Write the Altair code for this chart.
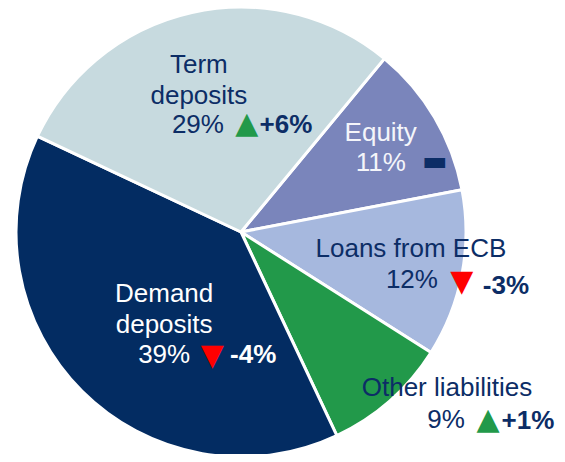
import altair as alt
import pandas as pd

# ---- data ----
categories = ["Equity", "Loans from ECB", "Other liabilities", "Demand deposits", "Term deposits"]
name_lines = ["Equity", "Loans from ECB", "Other liabilities", "Demand\ndeposits", "Term\ndeposits"]
shares = [11, 12, 9, 39, 29]
changes = ["", "-3%", "+1%", "-4%", "+6%"]
trend = ["flat", "down", "up", "down", "up"]

df = pd.DataFrame({
    "cat": categories,
    "name": name_lines,
    "share": shares,
    "pct": [f"{v}%" for v in shares],
    "chg": changes,
    "trend": trend,
    "order": list(range(len(categories))),
})

# ---- styles / layout ----
slice_colors = ["#7a85bb", "#a6b8de", "#22994a", "#032c62", "#c7dadf"]
NAVY = "#0c2d66"
text_color = {"Equity": "#f4f5fa", "Loans from ECB": NAVY, "Other liabilities": NAVY,
              "Demand deposits": "#ffffff", "Term deposits": NAVY}
chg_color = {"Equity": NAVY, "Loans from ECB": NAVY, "Other liabilities": NAVY,
             "Demand deposits": "#ffffff", "Term deposits": NAVY}
glyph = {"up": "▲", "down": "▼", "flat": "▬"}
glyph_color = {"up": "#22994a", "down": "#ff0000", "flat": NAVY}

# label anchor radius and offsets (name, pct, arrow, change)
layout = {
    "Term deposits":     dict(r=115, name=(-17, -55), pct=(-18, 5), arrow=(31, 4), chg=(70, 5)),
    "Equity":            dict(r=160, name=(2, -18), pct=(2, 12), arrow=(56, 11), chg=(0, 0)),
    "Loans from ECB":    dict(r=175, name=(-2, -16), pct=(-1, 15), arrow=(49, 17), chg=(93, 21)),
    "Other liabilities": dict(r=260, name=(34, -39), pct=(33, -7), arrow=(75, -7), chg=(115, -6)),
    "Demand deposits":   dict(r=120, name=(8, -23), pct=(8, 38), arrow=(56, 39), chg=(97, 38)),
}

start = 0.691  # radians, clockwise from 12 o'clock
theta_scale = alt.Scale(domain=[0, 100], range=[start, start + 2 * 3.141592653589793])
FONT = "Liberation Sans"
FS = 26
OUTER = 225
CX, CY = 233, 224  # pie centre inside the plot area

base = alt.Chart(df)
cx = alt.value(CX)
cy = alt.value(CY)

pie = base.mark_arc(outerRadius=OUTER, stroke="white", strokeWidth=3).encode(
    theta=alt.Theta("share:Q", stack=True, scale=theta_scale),
    order=alt.Order("order:Q"),
    color=alt.Color("cat:N", scale=alt.Scale(domain=categories, range=slice_colors), legend=None),
    x=cx, y=cy,
)

lab = base.transform_window(
    cum="sum(share)", sort=[alt.SortField("order")], frame=[None, 0]
).transform_calculate(mid="datum.cum - datum.share / 2")

layers = [pie]
for cat, tr in zip(categories, trend):
    L = layout[cat]
    src = lab.transform_filter(alt.datum.cat == cat)
    th = alt.Theta("mid:Q", scale=theta_scale)
    layers.append(src.mark_text(radius=L["r"], dx=L["name"][0], dy=L["name"][1], font=FONT,
                                fontSize=FS, lineBreak="\n", lineHeight=31, align="center",
                                baseline="middle", color=text_color[cat]).encode(
        theta=th, text="name:N", x=cx, y=cy))
    layers.append(src.mark_text(radius=L["r"], dx=L["pct"][0], dy=L["pct"][1], font=FONT,
                                fontSize=FS, align="center", baseline="middle",
                                color=text_color[cat]).encode(theta=th, text="pct:N", x=cx, y=cy))
    layers.append(src.mark_text(radius=L["r"], dx=L["arrow"][0], dy=L["arrow"][1], font="DejaVu Sans",
                                fontSize=30 if tr != "flat" else 27, align="center", baseline="middle",
                                color=glyph_color[tr]).encode(theta=th, text=alt.value(glyph[tr]),
                                                              x=cx, y=cy))
    if tr != "flat":
        layers.append(src.mark_text(radius=L["r"], dx=L["chg"][0], dy=L["chg"][1], font=FONT,
                                    fontSize=FS, fontWeight="bold", align="center", baseline="middle",
                                    color=chg_color[cat]).encode(theta=th, text="chg:N", x=cx, y=cy))

chart = alt.layer(*layers).properties(
    width=549, height=446, padding=0, autosize=alt.AutoSizeParams(type="none")
).configure_view(stroke=None)

chart.save("out.html", embed_options={"renderer": "svg", "actions": False})
